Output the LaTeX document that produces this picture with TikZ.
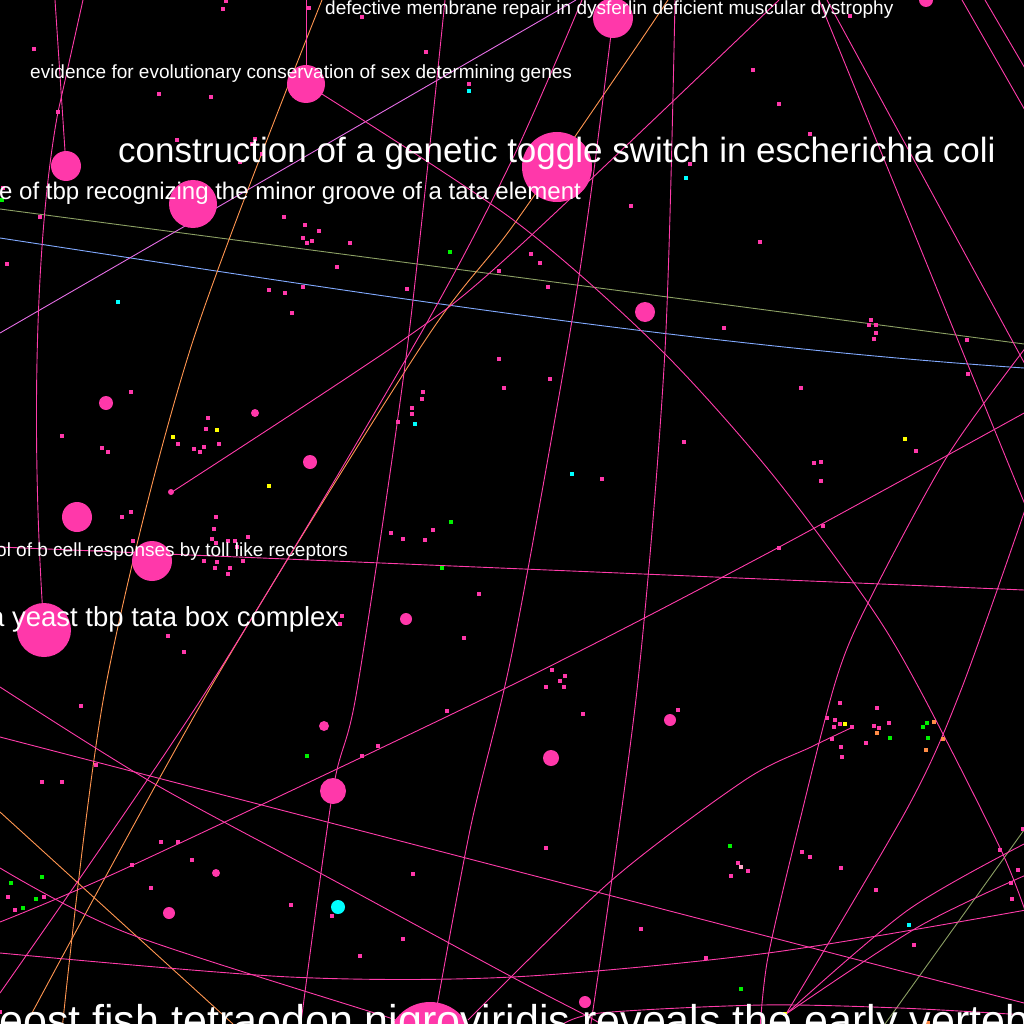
\documentclass[tikz,border=0pt]{standalone}
\usepackage{fontspec}
\setmainfont{Liberation Sans}
\usepackage{tikz}

\definecolor{nodepink}{RGB}{255,56,170}
\definecolor{edgepink}{RGB}{255,60,170}
\definecolor{edgeorange}{RGB}{255,150,80}
\definecolor{edgeolive}{RGB}{140,160,100}
\definecolor{edgeblue}{RGB}{130,170,255}
\definecolor{edgeviolet}{RGB}{230,110,230}
\definecolor{dotgreen}{RGB}{0,240,0}
\definecolor{dotcyan}{RGB}{0,255,255}
\definecolor{dotyellow}{RGB}{255,255,0}
\definecolor{dotorange}{RGB}{255,140,70}
\definecolor{dotlight}{RGB}{255,170,200}

\begin{document}
\begin{tikzpicture}[x=1pt,y=-1pt,
    edge/.style={edgepink, line width=0.9pt},
    orangeedge/.style={edgeorange, line width=0.9pt},
    oliveedge/.style={edgeolive, line width=0.9pt},
    blueedge/.style={edgeblue, line width=0.9pt},
    violetedge/.style={edgeviolet, line width=0.9pt},
    paper/.style={text=white, inner sep=0pt, anchor=base west}]
		%% black sky, cut to the frame
		\useasboundingbox (0,0) rectangle (1024,1024);
		\fill[black] (0,0) rectangle (1024,1024);
		\clip (0,0) rectangle (1024,1024);

		%% coloured threads first
		\draw[blueedge] (0,238) .. controls (341,290) and (683,345) .. (1024,368);
		\draw[oliveedge] (0,209) -- (1024,344);
		\draw[oliveedge] (885,1024) -- (1024,830);
		\draw[violetedge] (0,333) -- (576,0);
		\draw[orangeedge] plot[smooth] coordinates {(322,0) (190,350) (105,690) (62,1030)};
		\draw[orangeedge] (0,812) -- (233,1024);
		\draw[orangeedge] plot[smooth] coordinates {(668,0) (624,65) (512,227) (422,345) (212,685) (25,1026)};

		%% pink threads
		\draw[edge] (55,0) -- (66,166);
		\draw[edge] (83,0) -- (58,112) .. controls (36,230) and (30,430) .. (44,630);
		\draw[edge] (306,0) -- (306,84);
		\draw[edge] plot[smooth] coordinates {(306,84) (512,219) (656,345) (768,469) (868,603) (920,690) (1001,850) (1030,925)};
		\draw[edge] plot[smooth] coordinates {(613,18) (590,200) (567,350) (512,653) (470,830) (430,1045)};
		\draw[edge] plot[smooth] coordinates {(675,0) (665,350) (637,690) (590,1030)};
		\draw[edge] (819,0) -- (1026,507);
		\draw[edge] plot[smooth] coordinates {(1026,507) (961,690) (908,807) (786,1014)};
		\draw[edge] (827,0) -- (1026,366);
		\draw[edge] (962,0) -- (1026,112);
		\draw[edge] (985,0) -- (1026,70);
		\draw[edge] plot[smooth] coordinates {(1030,342) (948,455) (868,603) (836,680) (800,820) (768,957) (760,1030)};
		\draw[edge] plot[smooth] coordinates {(0,922) (133,865) (512,685) (768,553) (1026,412)};
		\draw[edge] (0,547) -- (1024,590);
		\draw[edge] plot[smooth] coordinates {(779,0) (512,253) (403,340) (172,492)};
		\draw[edge] plot[smooth] coordinates {(582,0) (512,160) (417,340) (207,690) (0,993)};
		\draw[edge] plot[smooth] coordinates {(445,0) (407,350) (357,690) (333,790) (300,1030)};
		\draw[edge] plot[smooth] coordinates {(0,687) (153,783) (333,880) (512,977) (589,1017) (600,1024)};
		\draw[edge] (0,737) -- (1024,1003);
		\draw[edge] plot[smooth] coordinates {(0,868) (127,933) (387,1017) (410,1026)};
		\draw[edge] plot[smooth] coordinates {(0,953) (290,977) (512,977) (768,953) (1026,910)};
		\draw[edge] plot[smooth] coordinates {(560,1026) (600,1013) (762,1005) (900,1008) (1026,1015)};
		\draw[edge] plot[smooth] coordinates {(468,1020) (612,880) (745,780) (811,747) (853,727)};
		\draw[edge] plot[smooth] coordinates {(786,1014) (908,910) (1026,843)};
		\draw[edge] plot[smooth] coordinates {(786,1014) (918,927) (1026,875)};

		%% the round papers, size is how much they are cited
		\foreach \x/\y/\r in {306/84/19, 66/166/15, 193/204/24, 557/167/35, 613/18/20, 926/0/7,
		    645/312/10, 106/403/7, 77/517/15, 152/561/20, 44/630/27, 310/462/7, 255/413/4,
		    406/619/6, 171/492/3, 333/791/13, 551/758/8, 670/720/6, 324/726/5, 216/873/4,
		    169/913/6, 430/1045/43, 585/1002/6}
			\fill[nodepink] (\x,\y) circle (\r pt);
		\fill[dotcyan] (338,907) circle (7pt);

		%% small papers
		\foreach \x/\y in {34/49, 223/9, 226/1, 309/8, 362/17, 426/52, 159/94, 211/97, 58/112, 469/84,
		    177/140, 255/139, 252/144, 262/154, 240/162, 3/188, 40/217, 284/217, 305/225, 319/231,
		    303/238, 312/241, 307/243, 350/243, 337/267, 7/264, 269/290, 285/293, 303/287, 292/313,
		    407/289, 499/271, 850/16, 753/70, 779/104, 810/134, 690/164, 631/206, 760/242, 531/254,
		    540/263, 548/287, 724/328, 871/320, 869/325, 876/325, 876/333, 874/339, 967/340,
		    131/392, 62/436, 102/448, 108/452, 208/418, 206/429, 178/444, 194/449, 204/447, 200/452,
		    219/444, 131/512, 122/517, 216/517, 214/529, 212/539, 216/543, 228/541, 235/541, 237/547,
		    248/537, 133/541, 204/561, 217/562, 215/568, 230/568, 228/574, 243/561, 499/359, 504/388,
		    423/392, 422/399, 412/408, 412/414, 398/422, 391/533, 403/539, 425/540, 433/530, 479/594,
		    342/616, 340/624, 168/636, 184/652, 464/638, 550/379, 602/479, 684/442, 801/388, 916/451,
		    814/463, 821/462, 821/481, 823/526, 779/548, 968/374, 552/670, 565/676, 560/681, 546/687,
		    564/687, 81/706, 96/765, 42/782, 62/782, 378/746, 362/756, 447/711, 161/842, 178/842,
		    132/865, 192/860, 151/888, 291/905, 332/916, 413/874, 403/939, 360/956, 8/897, 44/897,
		    15/910, 0/1012, 583/714, 678/710, 546/848, 641/929, 706/958, 738/863, 748/871, 731/876,
		    802/852, 810/857, 841/868, 876/890, 914/945, 840/703, 877/708, 827/718, 835/720, 840/724,
		    852/727, 834/727, 874/726, 879/728, 889/723, 866/743, 832/739, 841/747, 842/757,
		    1000/850, 1018/870, 1011/883, 1012/899, 1023/829}
			\fill[nodepink] (\x-2,\y-2) rectangle ++(4,4);
		\foreach \x/\y in {2/200, 450/252, 451/522, 442/568, 307/756, 42/877, 11/883, 36/899, 23/908,
		    741/989, 730/846, 890/738, 923/727, 927/723, 928/738}
			\fill[dotgreen] (\x-2,\y-2) rectangle ++(4,4);
		\foreach \x/\y in {469/91, 118/302, 686/178, 415/424, 572/474, 909/925}
			\fill[dotcyan] (\x-2,\y-2) rectangle ++(4,4);
		\foreach \x/\y in {217/430, 173/437, 269/486, 905/439, 845/724, 785/1014}
			\fill[dotyellow] (\x-2,\y-2) rectangle ++(4,4);
		\foreach \x/\y in {877/733, 934/722, 943/739, 926/750, 928/1023}
			\fill[dotorange] (\x-2,\y-2) rectangle ++(4,4);
		\fill[dotlight] (739,865) rectangle ++(4,4);

		%% titles on top
		\node[paper, font=\fontsize{19}{22}\selectfont] (dysferlin) at (325,15) {defective membrane repair in dysferlin deficient muscular dystrophy};
		\node[paper, font=\fontsize{19}{22}\selectfont] (sexgenes) at (30,79) {evidence for evolutionary conservation of sex determining genes};
		\node[paper, font=\fontsize{35}{40}\selectfont] (toggle) at (118,163) {construction of a genetic toggle switch in escherichia coli};
		\node[paper, font=\fontsize{24}{28}\selectfont] (tbpgroove) at (-1,200) {e of tbp recognizing the minor groove of a tata element};
		\node[paper, font=\fontsize{19}{22}\selectfont] (tollrec) at (-4,556) {ol of b cell responses by toll like receptors};
		\node[paper, font=\fontsize{27.5}{30}\selectfont] (tatabox) at (-11,626) {a yeast tbp tata box complex};
		\node[paper, font=\fontsize{43}{50}\selectfont] (tetraodon) at (-1,1035) {eost fish tetraodon nigroviridis reveals the early vertebrate};
	\end{tikzpicture}
\end{document}
